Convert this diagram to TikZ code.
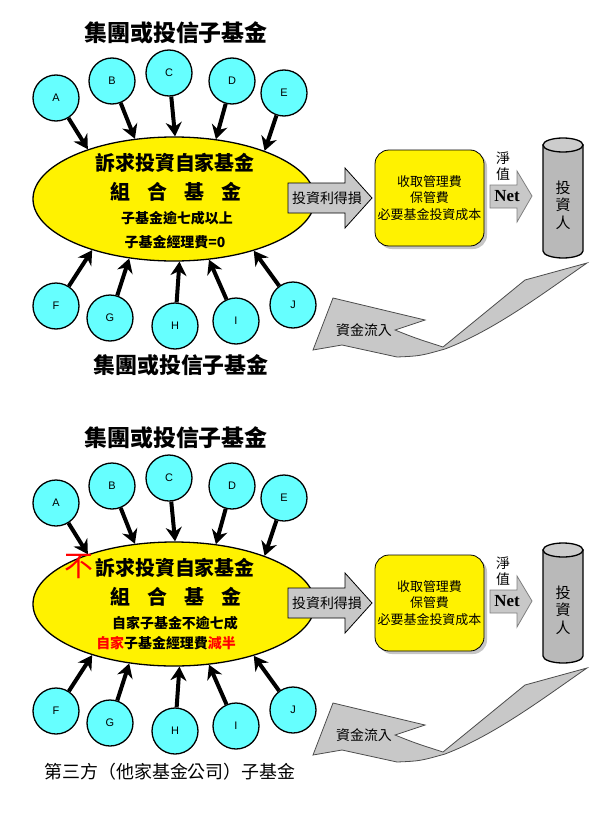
\documentclass[tikz,border=0pt]{standalone}
\usepackage{fontspec}
\usepackage{xcolor}
\usetikzlibrary{shapes.geometric,shadows,arrows.meta}
\newfontfamily\cjk{Noto Sans CJK TC}
\newfontfamily\lab{Liberation Sans}
\newfontfamily\netfont{Liberation Serif}
\definecolor{fundcyan}{RGB}{102,255,255}
\definecolor{flowgray}{RGB}{200,200,200}
\tikzstyle{fund} = [circle, draw, line width=1.3bp, fill=fundcyan, minimum size=46bp, inner sep=0pt, font=\lab\fontsize{11}{13}\selectfont]
\tikzstyle{feed} = [line width=4bp, -{Stealth[length=14bp,width=16bp]}]
\tikzstyle{pool} = [ellipse, draw, line width=1.3bp, fill=yellow, minimum width=282bp, minimum height=124bp, inner sep=0pt]
\tikzstyle{fee} = [rectangle, rounded corners=14bp, draw, line width=0.8bp, fill=yellow, minimum width=109bp, minimum height=96bp, align=center, inner sep=0pt, drop shadow={shadow xshift=3bp, shadow yshift=-3bp, opacity=.45}, font=\cjk\fontsize{13}{16.5}\selectfont]
\tikzstyle{block} = [fill=flowgray, draw, line width=0.8bp]
\tikzstyle{cyl} = [draw, line width=1.3bp, fill=gray!55]
\tikzstyle{big} = [font=\cjk\bfseries\fontsize{23}{26}\selectfont]
\tikzstyle{mid} = [font=\cjk\bfseries\fontsize{20}{24}\selectfont]
\tikzstyle{small} = [font=\cjk\bfseries\fontsize{14}{17}\selectfont]

\begin{document}
\begin{tikzpicture}[x=1bp, y=-1bp]
  \useasboundingbox (0,0) rectangle (614,814);

  \foreach \p/\dy in {1/0, 2/405} {
    \begin{scope}[yshift=-\dy bp]
      \node[big] (top\p) at (176,33) {集團或投信子基金};
      \node[pool] (ell\p) at (174,199) {};
      \foreach \f/\x/\y/\a in {A/56/98/150, B/112/81/123, C/169/73/89, D/232/81/55, E/284/93/28,
                               F/56/306/212, G/110/318/233, H/175/326/275, I/236/321/300, J/293/305/327} {
        \node[fund] (\f\p) at (\x,\y) {\f};
        \draw[feed] (\f\p) -- (ell\p.\a);
      }
      \node[mid] (goal\p) at (175,163) {訴求投資自家基金};
      \node[mid] (kind\p) at (176,192) {組\hspace{17bp}合\hspace{17bp}基\hspace{17bp}金};

      % gains to fees
      \filldraw[block] (288,183) -- (345,183) -- (345,168) -- (372,198) -- (345,228) -- (345,213) -- (288,213) -- cycle;
      \node[font=\cjk\fontsize{14}{17}\selectfont] (gain\p) at (327,198) {投資利得損};
      \node[fee] (fee\p) at (429.5,198) {收取管理費\\保管費\\必要基金投資成本};

      % net value
      \filldraw[block, draw=gray] (490,185) -- (517,185) -- (517,171) -- (532,196) -- (517,222) -- (517,208) -- (490,208) -- cycle;
      \node[font=\netfont\bfseries\fontsize{17}{20}\selectfont] (net\p) at (507,196) {Net};
      \node[align=center, font=\cjk\fontsize{14}{16}\selectfont] (nav\p) at (503,166) {淨\\值};

      % investor
      \node[inner sep=0pt, minimum width=40bp, minimum height=120bp] (inv\p) at (563,198) {};
      \filldraw[cyl] (543,145) -- (543,251) arc[start angle=180, end angle=360, x radius=20bp, y radius=7bp] -- (583,145) -- cycle;
      \filldraw[cyl, fill=gray!40] (563,145) ellipse [x radius=20bp, y radius=7bp];
      \node[align=center, font=\cjk\fontsize{15}{17.5}\selectfont] (invtxt\p) at (563,205) {投\\資\\人};

      % money flowing back
      \filldraw[block, draw=gray!60!black] (313,350) -- (333,298) -- (425,320) -- (395,330)
        .. controls (415,338) .. (443,347) -- (525,280) -- (587,263)
        .. controls (545,292) and (495,330) .. (445,349)
        .. controls (420,356) .. (397,357) -- (342,345) -- cycle;
      \node[font=\cjk\fontsize{14}{17}\selectfont] (inflow\p) at (364,330) {資金流入};
    \end{scope}
  }

  % panel one
  \node[small] (rule1a) at (177,218) {子基金逾七成以上};
  \node[small] (rule1b) at (175,242) {子基金經理費=0};
  \node[font=\cjk\bfseries\fontsize{22}{26}\selectfont] (bot1) at (181,365) {集團或投信子基金};

  % panel two
  \node[font=\cjk\fontsize{29}{32}\selectfont, text=red] (not2) at (79,566) {不};
  \node[small] (rule2a) at (175,623) {自家子基金不逾七成};
  \node[small] (rule2b) at (166,643) {\textcolor{red}{自家}子基金經理費\textcolor{red}{減半}};
  \node[font=\cjk\fontsize{18}{22}\selectfont] (bot2) at (170,772) {第三方（他家基金公司）子基金};
\end{tikzpicture}
\end{document}
